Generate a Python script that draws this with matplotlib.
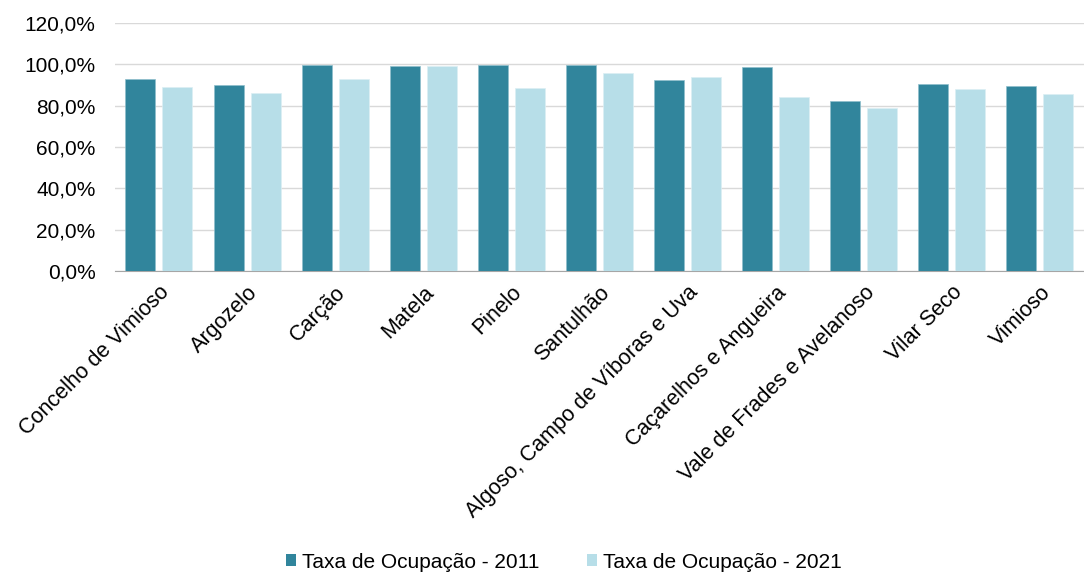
import matplotlib
matplotlib.use("Agg")
import matplotlib.pyplot as plt
import numpy as np
from matplotlib.ticker import FuncFormatter
from matplotlib.patches import Patch

plt.rcParams['font.family'] = ['Liberation Sans', 'DejaVu Sans']

categories = ["Concelho de Vimioso", "Argozelo", "Carção", "Matela", "Pinelo",
              "Santulhão", "Algoso, Campo de Víboras e Uva", "Caçarelhos e Angueira",
              "Vale de Frades e Avelanoso", "Vilar Seco", "Vimioso"]
taxa_2011 = [92.8, 89.9, 99.7, 99.4, 99.7, 99.7, 92.3, 98.7, 82.4, 90.3, 89.7]
taxa_2021 = [88.9, 86.1, 92.8, 99.0, 88.4, 95.7, 93.7, 84.1, 78.7, 87.8, 85.4]
series_labels = ["Taxa de Ocupação - 2011", "Taxa de Ocupação - 2021"]
yticks = [0, 20, 40, 60, 80, 100, 120]

c1 = "#31859C"
c2 = "#B7DEE8"
fs = 15

fig = plt.figure(figsize=(10.84, 5.74), dpi=100)
ax = fig.add_axes([0.106, 0.528, 0.894, 0.432])

x = np.arange(len(categories))
w = 0.34
ax.bar(x - 0.21, taxa_2011, width=w, color=c1, edgecolor="#8fbfcc", linewidth=0.5, zorder=3)
ax.bar(x + 0.21, taxa_2021, width=w, color=c2, edgecolor="#dcefF4", linewidth=0.5, zorder=3)

ax.set_xlim(-0.5, len(categories) - 0.5)
ax.set_ylim(0, 120)
ax.set_yticks(yticks)
ax.yaxis.set_major_formatter(FuncFormatter(lambda v, p: f"{v:.1f}%".replace(".", ",")))
ax.grid(axis='y', color="#D9D9D9", linewidth=1, zorder=0)
for s in ["top", "right", "left"]:
    ax.spines[s].set_visible(False)
ax.spines["bottom"].set_color("#A6A6A6")
ax.tick_params(axis='both', length=0, labelsize=fs, colors="#000000")
ax.tick_params(axis='y', pad=14)
ax.tick_params(axis='x', pad=8, labelsize=15.5)
ax.set_xticks(x)
ax.set_xticklabels(categories, rotation=45, ha='right', rotation_mode='anchor')

handles = [Patch(facecolor=c1), Patch(facecolor=c2)]
fig.legend(handles, series_labels, loc='center', bbox_to_anchor=(0.52, 12 / 574),
           ncol=2, frameon=False, fontsize=fs, handlelength=0.5, handleheight=0.5,
           handletextpad=0.25, columnspacing=2.3, borderpad=0)

fig.savefig("out.png", dpi=100)
